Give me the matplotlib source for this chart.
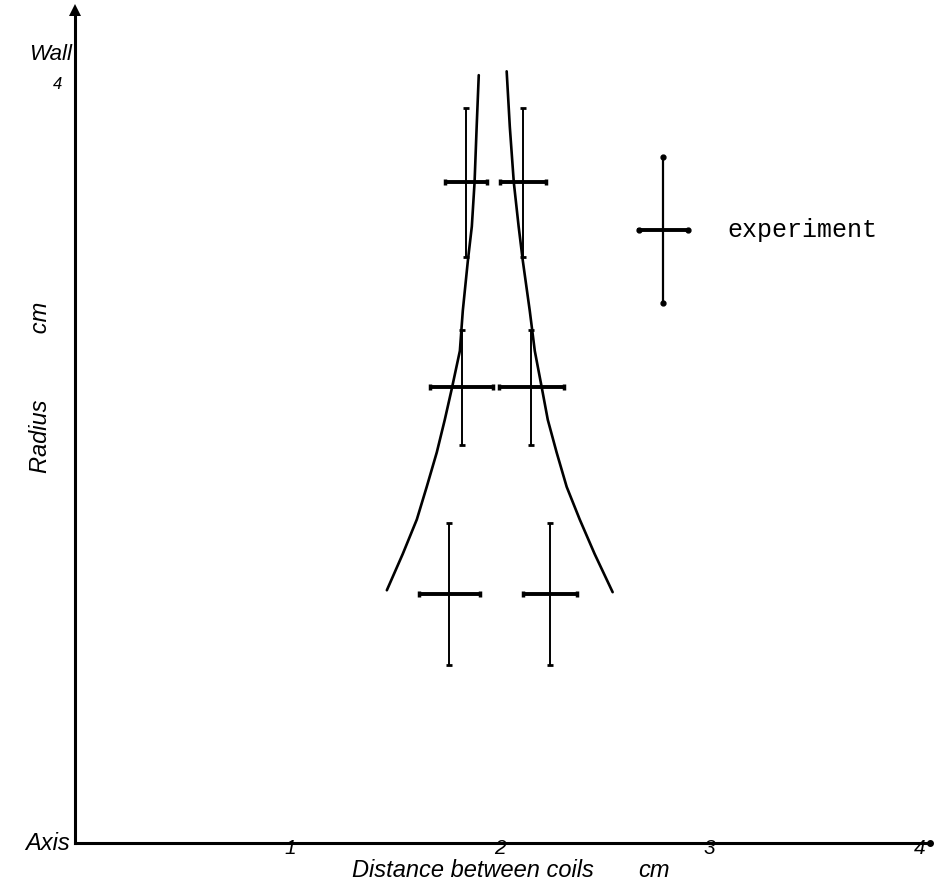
"""Radial profile of the measured field boundary between two coils."""

import matplotlib

matplotlib.use("Agg")

import matplotlib.pyplot as plt
import numpy as np

# measured points (distance between coils, radius) with their uncertainties
EXP_X = [1.84, 2.11, 1.82, 2.15, 1.76, 2.24]
EXP_Y = [3.45, 3.45, 2.38, 2.38, 1.30, 1.30]
EXP_XERR = [0.10, 0.11, 0.15, 0.155, 0.145, 0.13]
EXP_YERR = [0.39, 0.39, 0.30, 0.30, 0.37, 0.37]

# calculated boundary curves
LEFT_Y = [4.01, 3.74, 3.45, 3.22, 3.04, 2.78, 2.57, 2.37, 2.21, 2.04, 1.86, 1.69, 1.51, 1.32]
LEFT_X = [1.900, 1.890, 1.880, 1.867, 1.848, 1.824, 1.810, 1.771, 1.738, 1.700, 1.652, 1.605,
          1.538, 1.462]
RIGHT_Y = [4.03, 3.74, 3.45, 3.22, 3.04, 2.78, 2.57, 2.38, 2.21, 2.04, 1.86, 1.69, 1.51, 1.31]
RIGHT_X = [2.033, 2.048, 2.067, 2.090, 2.110, 2.143, 2.167, 2.200, 2.229, 2.271, 2.319, 2.381,
           2.452, 2.538]

X_TICKS = [1, 2, 3, 4]
X_TICK_LABELS = ["1", "2", "3", "4"]

HAND = dict(family=["Liberation Sans", "DejaVu Sans"], style="italic")


def main() -> None:
    fig = plt.figure(figsize=(9.35, 8.82), dpi=100)
    ax = fig.add_axes([0.0802, 0.0442, 0.9144, 0.9444])
    ax.set_xlim(-0.024, 4.05)
    ax.set_ylim(0, 4.35)

    for side in ("top", "right"):
        ax.spines[side].set_visible(False)
    for side in ("left", "bottom"):
        ax.spines[side].set_linewidth(2.2)
        ax.spines[side].set_color("black")

    # arrow head on the radius axis, end blob on the distance axis
    ax.plot([0], [1.0], marker="^", ms=9, color="black", transform=ax.transAxes,
            clip_on=False, markeredgewidth=0)
    ax.plot([1.0], [0], marker="o", ms=4, color="black", transform=ax.transAxes,
            clip_on=False)

    ax.plot(LEFT_X, LEFT_Y, color="black", lw=1.9, solid_capstyle="round",
            solid_joinstyle="round")
    ax.plot(RIGHT_X, RIGHT_Y, color="black", lw=1.9, solid_capstyle="round",
            solid_joinstyle="round")

    ax.errorbar(EXP_X, EXP_Y, yerr=EXP_YERR, fmt="none", ecolor="black",
                elinewidth=1.4, capsize=2, capthick=2)
    ax.errorbar(EXP_X, EXP_Y, xerr=EXP_XERR, fmt="none", ecolor="black",
                elinewidth=2.8, capsize=2, capthick=2.5)

    # key
    kx, ky = 0.688, 0.736
    dy, dx = 0.088, 0.0287
    ax.plot([kx, kx], [ky - dy, ky + dy], color="black", lw=1.6,
            transform=ax.transAxes, clip_on=False)
    ax.plot([kx - dx, kx + dx], [ky, ky], color="black", lw=2.8,
            transform=ax.transAxes, clip_on=False)
    for px, py in [(kx, ky - dy), (kx, ky + dy), (kx - dx, ky), (kx + dx, ky)]:
        ax.plot([px], [py], marker="o", ms=3.5, color="black", transform=ax.transAxes)
    ax.text(0.763, ky, "experiment", transform=ax.transAxes, va="center", ha="left",
            fontsize=18, family="Liberation Mono")

    ax.set_xticks(X_TICKS, X_TICK_LABELS, fontsize=15, **HAND)
    ax.set_yticks([])
    ax.tick_params(axis="x", length=0, pad=-3)

    ax.text(-0.105, 4.0, "4", ha="center", va="top", fontsize=12, **HAND)
    ax.text(-0.04, 4.12, "Wall", ha="right", va="center", fontsize=16, **HAND)
    ax.text(-0.05, 0.0, "Axis", ha="right", va="center", fontsize=17, **HAND)
    ax.text(-0.19, 2.38, "Radius          cm", rotation=90, ha="center", va="center",
            fontsize=17, **HAND)
    ax.text(1.295, -0.085, "Distance between coils", ha="left", va="top",
            fontsize=17, **HAND)
    ax.text(2.66, -0.085, "cm", ha="left", va="top", fontsize=17, **HAND)

    fig.savefig("out.png", dpi=100)
    plt.close(fig)


if __name__ == "__main__":
    main()
